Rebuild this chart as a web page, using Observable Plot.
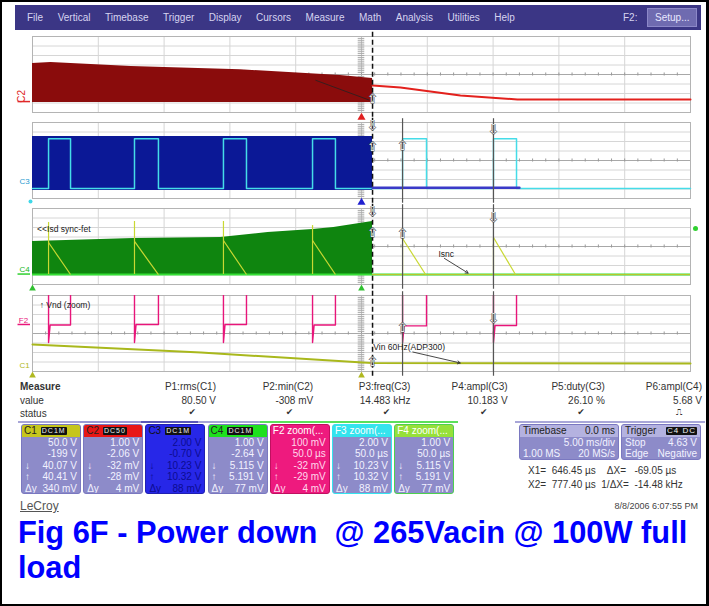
<!DOCTYPE html>
<html><head><meta charset="utf-8">
<script src="https://cdn.jsdelivr.net/npm/d3@7"></script>
<script src="https://cdn.jsdelivr.net/npm/@observablehq/plot@0.6"></script>
<style>
body{margin:0;background:#fff;font-family:"Liberation Sans",Arial,sans-serif;}
#stage{position:relative;width:709px;height:606px;overflow:hidden;background:#fff;}
#stage svg{position:absolute;left:0;}
.box{position:absolute;top:424px;width:60px;height:70px;border:1px solid #6f6db0;border-radius:3px;background:#8d8bc9;box-sizing:border-box;overflow:hidden;font-size:10px;color:#f2f2ff;}
.box .hd{height:12px;line-height:12px;padding-left:2px;font-size:10px;white-space:nowrap;overflow:hidden;}
.box .rw{height:11.4px;line-height:11.4px;text-align:right;padding-right:3px;position:relative;white-space:nowrap;}
.box .rw span{position:absolute;left:3px;top:0;}
.badge{display:inline-block;background:#111;color:#eee;font-size:7px;line-height:8px;padding:0 1px;border-radius:1px;margin-left:4px;vertical-align:1px;letter-spacing:1px;}
</style></head><body><div id="stage"></div><script>
// ---- axis / grid values (time in ms at 5 ms/div, amplitude in screen divisions) ----
const timeDomain = [0, 50];
const divDomain = [-4, 4];
const gridTimes = [0, 5, 10, 15, 20, 25, 30, 35, 40, 45, 50];
const gridDivs = [-4, -3, -2, -1, 0, 1, 2, 3, 4];
const minorTimes = d3.range(0, 50.01, 1);
const minorDivs = d3.range(-4, 4.01, 0.2);
const triggerTime = 25.84;
const cursorTimes = [28.12, 35.03];
const switchOn  = [1.22, 7.75, 14.51, 21.28, 28.12, 35.03];
const switchOff = [2.89, 9.57, 16.26, 23.02, 29.94, 36.78];

// ---- C2 (dark red envelope, then red decay) ----
const c2BandTime   = [0, 1.4, 7.5, 15.8, 23.4, 25.84];
const c2BandTop    = [1.16, 1.26, 0.84, 0.5, -0.1, -0.42];
const c2BandBottom = [-2.95, -2.95, -2.95, -2.95, -2.95, -2.95];
const c2TailTime   = [25.84, 27.96, 30.24, 32.52, 36.85, 50];
const c2TailLevel  = [-1.16, -1.37, -1.79, -2.2, -2.63, -2.63];

// ---- C3 (blue envelope) / F3 (cyan gate) ----
const c3BandTime   = [0, 25.84];
const c3BandTop    = [2.53, 2.53];
const c3BandBottom = [-3.16, -3.16];
const f3High = 2.3;
const f3Low = -2.95;
const c3TailTime  = [25.84, 37.0];
const c3TailLevel = [-2.86, -2.86];

// ---- C4 (green envelope) / F4 Isd spikes ----
const c4BandTime   = [0, 7.7, 14.3, 17.9, 21.3, 22.9, 25.84];
const c4BandTop    = [0.53, 0.84, 0.95, 1.47, 1.79, 2.0, 2.63];
const c4BandBottom = [-2.95, -2.95, -2.95, -2.95, -2.95, -2.95, -2.95];
const c4Baseline = -2.95;
const isdPeak = [2.53, 2.63, 2.63, 2.2, 0.84, 0.95];
const isdKnee = [0.42, 0.53, 0.63, 0.63, 0.84, 0.95];
const isdEnd  = [2.89, 9.57, 16.26, 23.02, 29.87, 36.7];

// ---- F2 (Vnd zoom, pink) / C1 (Vin, olive) ----
const f2PulseLevel = [0.9, 0.95, 0.95, 0.9, 0.8, 0.85];
const f2SpikeLow = -0.95;
const f2OffScreen = 5;
const c1Time  = [0, 12.8, 25.1, 25.84, 50];
const c1Level = [-1.16, -2.0, -3.05, -3.1, -3.16];

// ---- text ----
const menuItems = ["File","Vertical","Timebase","Trigger","Display","Cursors","Measure","Math","Analysis","Utilities","Help"];
const measureNames  = ["P1:rms(C1)","P2:min(C2)","P3:freq(C3)","P4:ampl(C3)","P5:duty(C3)","P6:ampl(C4)"];
const measureValues = ["80.50 V","-308 mV","14.483 kHz","10.183 V","26.10 %","5.68 V"];
const measureStatus = ["✔","✔","✔","✔","✔","⎍"];
const chanNames  = ["C1","C2","C3","C4","F2 zoom(...","F3 zoom(...","F4 zoom(..."];
const chanScale  = ["50.0 V","1.00 V","2.00 V","1.00 V","100 mV","2.00 V","1.00 V"];
const chanOffset = ["-199 V","-2.06 V","-0.70 V","-2.64 V","50.0 µs","50.0 µs","50.0 µs"];
const chanDown   = ["40.07 V","-32 mV","10.23 V","5.115 V","-32 mV","10.23 V","5.115 V"];
const chanUp     = ["40.41 V","-28 mV","10.32 V","5.191 V","-29 mV","10.32 V","5.191 V"];
const chanDelta  = ["340 mV","4 mV","88 mV","77 mV","4 mV","88 mV","77 mV"];
const chanBadge  = ["DC1M","DC50","DC1M","DC1M","","",""];
const cursorText = ["X1=  646.45 µs    ΔX=   -69.05 µs", "X2=  777.40 µs  1/ΔX=  -14.48 kHz"];
const captionText = "Fig 6F - Power down  @ 265Vacin @ 100W full load";

// ---------------------------------------------------------------
const stage = document.getElementById("stage");
function el(tag, css, text, parent) {
  const e = document.createElement(tag);
  e.style.cssText = css;
  if (text != null) e.textContent = text;
  (parent || stage).append(e);
  return e;
}
const zip = (ts, ys, y2s) => ts.map((t, i) => ({t, v: ys[i], v2: y2s ? y2s[i] : undefined}));

const gridMarks = () => [
  Plot.ruleX(gridTimes, {stroke: "#d6d6d6", strokeWidth: 1}),
  Plot.ruleY(gridDivs, {stroke: "#d6d6d6", strokeWidth: 1}),
  Plot.ruleY([0], {stroke: "#a8a8a8"}),
  Plot.ruleX([25], {stroke: "#c4c4c4"}),
  Plot.ruleX(minorTimes, {y1: -0.16, y2: 0.16, stroke: "#999"}),
  Plot.ruleY(minorDivs, {x1: 24.75, x2: 25.25, stroke: "#aaa"}),
  Plot.frame({stroke: "#b4b4b4"})
];
const arrowGlyph = (data) => Plot.text(data, {x: "t", y: "v", text: "g", fontSize: 13, fill: "white", stroke: "#444", strokeWidth: 0.9, fontFamily: "DejaVu Sans"});

function panel(top, marks) {
  const p = Plot.plot({
    width: 709, height: 88, marginLeft: 32, marginRight: 19, marginTop: 4, marginBottom: 8,
    x: {domain: timeDomain, axis: null},
    y: {domain: divDomain, axis: null},
    style: {background: "transparent", overflow: "visible", fontFamily: "Liberation Sans, Arial, sans-serif"},
    marks: [...gridMarks(), ...marks]
  });
  p.style.top = top + "px";
  p.style.overflow = "visible";
  stage.append(p);
  d3.select(p).selectAll("g[aria-label=underlined] text").style("text-decoration", "underline");
  return p;
}
const trigRule = Plot.ruleX([triggerTime], {y1: -4.5, y2: 4.5, stroke: "#111", strokeWidth: 1.5, strokeDasharray: "5,3"});
const cursorRule = Plot.ruleX(cursorTimes, {y1: -4.5, y2: 4.4, stroke: "#555", strokeWidth: 1.2});

// Panel 1 : C2
panel(32, [
  Plot.areaY(zip(c2BandTime, c2BandTop, c2BandBottom), {x: "t", y1: "v2", y2: "v", fill: "#8a0c0c"}),
  Plot.line(zip(c2TailTime, c2TailLevel), {x: "t", y: "v", stroke: "#e3211d", strokeWidth: 2}),
  Plot.link([{a: 21.5, b: -0.6, c: 25.6, d: -2.7}], {x1: "a", y1: "b", x2: "c", y2: "d", stroke: "#222", strokeWidth: 0.8}),
  trigRule,
  arrowGlyph([{t: triggerTime, v: -2.6, g: "⇧"}]),
  Plot.text([{t: 0, v: -2.3}], {x: "t", y: "v", text: () => "C2", rotate: -90, dx: -11, fill: "#e02828", fontSize: 10}),
  Plot.ruleY([-2.85], {x1: -1.1, x2: -0.15, stroke: "#e02828", strokeWidth: 1.5}),
  Plot.dot([{t: 25, v: -4}], {x: "t", y: "v", dy: 5, symbol: "triangle", r: 3, fill: "#e02020"})
]);

// Panel 2 : C3 / F3
const f3Series = [{t: 0, v: f3Low}];
switchOn.forEach((on, i) => f3Series.push({t: on, v: f3Low}, {t: on, v: f3High}, {t: switchOff[i], v: f3High}, {t: switchOff[i], v: f3Low}));
f3Series.push({t: 50, v: f3Low});
panel(118, [
  Plot.areaY(zip(c3BandTime, c3BandTop, c3BandBottom), {x: "t", y1: "v2", y2: "v", fill: "#0b1896"}),
  Plot.line(f3Series, {x: "t", y: "v", stroke: "#45dce8", strokeWidth: 1.5}),
  Plot.line(zip(c3TailTime, c3TailLevel), {x: "t", y: "v", stroke: "#3a3ac8", strokeWidth: 2.5}),
  trigRule, cursorRule,
  arrowGlyph([{t: triggerTime, v: 3.6, g: "⇩"}, {t: triggerTime, v: 1.4, g: "⇧"}, {t: cursorTimes[0], v: 1.5, g: "⇧"}, {t: cursorTimes[1], v: 3.2, g: "⇩"}]),
  Plot.text([{t: 0, v: -2.2}], {x: "t", y: "v", text: () => "C3", dx: -8, fill: "#2a9ad0", fontSize: 8}),
  Plot.dot([{t: 0, v: -4}], {x: "t", y: "v", dx: -2, dy: 3, r: 2, fill: "#40d8e8"}),
  Plot.dot([{t: 25, v: -4}], {x: "t", y: "v", dy: 4, symbol: "triangle", r: 3, fill: "#2020d0"})
]);

// Panel 3 : C4 / Isd
const isdPre = switchOn.slice(0, 4).map((on, i) => ({t: on, top: isdPeak[i]}));
const isdDecay = switchOn.map((on, i) => ({t1: on, v1: isdKnee[i], t2: isdEnd[i], v2: c4Baseline}));
panel(204, [
  Plot.areaY(zip(c4BandTime, c4BandTop, c4BandBottom), {x: "t", y1: "v2", y2: "v", fill: "#0f850f"}),
  Plot.ruleY([c4Baseline], {stroke: "#35e035", strokeWidth: 2}),
  Plot.ruleY([c4Baseline], {x1: triggerTime, x2: 50, stroke: "#b8c82a", strokeWidth: 1}),
  Plot.ruleX(isdPre, {x: "t", y1: c4Baseline, y2: "top", stroke: "#c9d833", strokeWidth: 1.2}),
  Plot.ruleX(switchOn.slice(4), {y1: c4Baseline, y2: (d, i) => isdPeak[i + 4], stroke: "#c9d833", strokeWidth: 1.2}),
  Plot.link(isdDecay, {x1: "t1", y1: "v1", x2: "t2", y2: "v2", stroke: "#c9d833", strokeWidth: 1.2}),
  trigRule, cursorRule,
  arrowGlyph([{t: triggerTime, v: 3.6, g: "⇩"}, {t: triggerTime, v: 1.4, g: "⇧"}, {t: cursorTimes[0], v: 1.3, g: "⇧"}, {t: cursorTimes[1], v: 3.0, g: "⇩"}]),
  Plot.text([{t: 0.35, v: 1.85}], {x: "t", y: "v", text: () => "<<Isd sync-fet", textAnchor: "start", fill: "#222", fontSize: 8.5, ariaLabel: "underlined"}),
  Plot.text([{t: 30.85, v: -0.8}], {x: "t", y: "v", text: () => "Isnc", textAnchor: "start", fill: "#222", fontSize: 8.5, ariaLabel: "underlined"}),
  Plot.arrow([{a: 31.3, b: -1.25, c: 33.1, d: -2.8}], {x1: "a", y1: "b", x2: "c", y2: "d", stroke: "#333", strokeWidth: 0.9, headLength: 5}),
  Plot.text([{t: 0, v: -2.4}], {x: "t", y: "v", text: () => "C4", dx: -8, fill: "#18b818", fontSize: 8}),
  Plot.ruleY([-2.9], {x1: -1.1, x2: -0.15, stroke: "#30d030", strokeWidth: 1.5}),
  Plot.dot([{t: 50, v: 1.9}], {x: "t", y: "v", dx: 5, r: 2.5, fill: "#30d030"}),
  Plot.dot([{t: 0, v: -4}, {t: 25, v: -4}], {x: "t", y: "v", dy: 4, symbol: "triangle", r: 2.5, fill: "#30c030"})
]);

// Panel 4 : F2 / C1
const f2Series = [{t: 0, v: f2OffScreen}];
switchOn.forEach((on, i) => f2Series.push(
  {t: on, v: f2OffScreen}, {t: on, v: f2SpikeLow}, {t: on + 0.12, v: f2PulseLevel[i]},
  {t: switchOff[i], v: f2PulseLevel[i]}, {t: switchOff[i], v: f2OffScreen}));
f2Series.push({t: 50, v: f2OffScreen});
panel(291, [
  Plot.line(zip(c1Time, c1Level), {x: "t", y: "v", stroke: "#a9b81c", strokeWidth: 2}),
  Plot.line(f2Series, {x: "t", y: "v", stroke: "#e8157a", strokeWidth: 1.4, clip: true}),
  trigRule, cursorRule,
  arrowGlyph([{t: triggerTime, v: -3.0, g: "⇧"}, {t: cursorTimes[0], v: 0.6, g: "⇧"}, {t: cursorTimes[1], v: 1.5, g: "⇩"}]),
  Plot.text([{t: 0.55, v: 3.0}], {x: "t", y: "v", text: () => "↑ Vnd (zoom)", textAnchor: "start", fill: "#222", fontSize: 8.5, ariaLabel: "underlined"}),
  Plot.text([{t: 25.9, v: -1.45}], {x: "t", y: "v", text: () => "Vin 60Hz(ADP300)", textAnchor: "start", fill: "#222", fontSize: 8.5, ariaLabel: "underlined"}),
  Plot.arrow([{a: 28.9, b: -1.95, c: 32.5, d: -3.1}], {x1: "a", y1: "b", x2: "c", y2: "d", stroke: "#333", strokeWidth: 0.9, headLength: 5}),
  Plot.text([{t: 0, v: 1.4}], {x: "t", y: "v", text: () => "F2", dx: -9, fill: "#e8157a", fontSize: 8}),
  Plot.ruleY([0.95], {x1: -1.1, x2: -0.15, stroke: "#e8157a", strokeWidth: 1.5}),
  Plot.text([{t: 0, v: -3.4}], {x: "t", y: "v", text: () => "C1", dx: -8, fill: "#b0b820", fontSize: 8}),
  Plot.dot([{t: 0, v: -4}, {t: 25, v: -4}], {x: "t", y: "v", dy: 4, symbol: "triangle", r: 2.5, fill: "#b0b820"})
]);

// ---- menu bar ----
const bar = el("div", "position:absolute;left:15px;top:5px;width:686px;height:25px;background:#3b3685;");
const mrow = el("div", "position:absolute;left:12px;top:7px;display:flex;gap:14.5px;font-size:10px;color:#d6d4f0;", null, bar);
menuItems.forEach(m => el("span", "", m, mrow));
el("span", "position:absolute;left:608px;top:7px;font-size:10px;color:#d6d4f0;", "F2:", bar);
el("div", "position:absolute;left:632px;top:3px;width:50px;height:19px;background:#6f6bb0;border:1px solid #8c88c8;box-sizing:border-box;font-size:10px;color:#e8e8ff;line-height:17px;padding-left:7px;", "Setup...", bar);

// ---- measure table ----
const mcss = "position:absolute;font-size:10px;color:#333;white-space:nowrap;";
el("div", mcss + "left:20px;top:381px;font-weight:bold;", "Measure");
el("div", mcss + "left:20px;top:395px;", "value");
el("div", mcss + "left:20px;top:408px;", "status");
measureNames.forEach((n, i) => {
  const right = 709 - (216 + i * 97.2);
  el("div", mcss + `right:${right}px;top:381px;`, n);
  el("div", mcss + `right:${right}px;top:395px;`, measureValues[i]);
  el("div", mcss + `right:${right + 20}px;top:407px;font-family:'DejaVu Sans';font-size:9px;`, measureStatus[i]);
});
el("div", "position:absolute;left:18px;top:421px;width:440px;height:2px;background:linear-gradient(90deg,#a8a6d8 0 14%,#9a98d6 14% 28%,#5a58b8 28% 41%,#a8a6d8 41% 55%,#5be05b 55% 69%,#5be05b 69% 83%,#5be05b 83% 100%);");
el("div", "position:absolute;left:515px;top:421px;width:190px;height:2px;background:#a8a6d8;");

// ---- channel boxes ----
const hdBg   = ["#c6c61c", "#e81616", "transparent", "#1ee01e", "transparent", "#34e4ee", "#96e03a"];
const hdFg   = ["#222", "#222", "#111", "#222", "#fff", "#fff", "#fff"];
const boxBg  = ["#8d8bc9", "#8d8bc9", "#2727e8", "#8d8bc9", "#ee1a7e", "#8d8bc9", "#8d8bc9"];
const boxFg  = ["#f2f2ff", "#f2f2ff", "#0c0c90", "#f2f2ff", "#ffd8ec", "#f2f2ff", "#f2f2ff"];
const boxBd  = ["#7a78c0", "#7a78c0", "#2020b0", "#7a78c0", "#c01060", "#34e4ee", "#4ed04e"];
chanNames.forEach((name, i) => {
  const b = el("div", `left:${21 + i * 62.2}px;background:${boxBg[i]};border-color:${boxBd[i]};color:${boxFg[i]};`);
  b.className = "box";
  const hd = el("div", `background:${hdBg[i]};color:${hdFg[i]};`, name, b);
  hd.className = "hd";
  if (chanBadge[i]) { const bg = el("span", "", chanBadge[i], hd); bg.className = "badge"; }
  [["", chanScale[i]], ["", chanOffset[i]], ["↓", chanDown[i]], ["↑", chanUp[i]], ["Δy", chanDelta[i]]].forEach(([lab, val]) => {
    const r = el("div", "", val, b); r.className = "rw";
    if (lab) el("span", "", lab, r);
  });
});

// ---- timebase / trigger ----
function infoBox(left, width, title, titleRight, rows) {
  const b = el("div", `position:absolute;left:${left}px;top:424px;width:${width}px;height:36px;border:1px solid #7a78c0;border-radius:3px;background:#8d8bc9;box-sizing:border-box;font-size:10px;color:#f2f2ff;overflow:hidden;`);
  const hd = el("div", "height:12px;line-height:12px;background:#b4b2e0;color:#222;padding:0 3px;position:relative;", title, b);
  el("span", "position:absolute;right:3px;top:0;", null, hd).append(titleRight);
  rows.forEach(([l, r]) => {
    const rw = el("div", "height:11px;line-height:11px;padding:0 3px;position:relative;text-align:right;", r, b);
    el("span", "position:absolute;left:3px;top:0;", l, rw);
  });
}
infoBox(519, 100, "Timebase", "0.0 ms", [["", "5.00 ms/div"], ["1.00 MS", "20 MS/s"]]);
const trigBadge = document.createElement("span"); trigBadge.className = "badge"; trigBadge.textContent = "C4 DC"; trigBadge.style.fontSize = "8px";
infoBox(621, 80, "Trigger", trigBadge, [["Stop", "4.63 V"], ["Edge", "Negative"]]);
el("div", "position:absolute;left:528px;top:465px;font-size:10px;color:#333;white-space:pre;", cursorText[0]);
el("div", "position:absolute;left:528px;top:479px;font-size:10px;color:#333;white-space:pre;", cursorText[1]);

// ---- footer ----
el("div", "position:absolute;left:20px;top:499px;font-size:12px;color:#555;text-decoration:underline;", "LeCroy");
el("div", "position:absolute;right:11px;top:501px;font-size:9px;color:#444;", "8/8/2006 6:07:55 PM");
el("div", "position:absolute;left:18px;top:515px;width:690px;font-size:30.8px;font-weight:bold;line-height:35px;color:#0000ff;white-space:pre-wrap;", captionText);

// frame
el("div", "position:absolute;left:0;top:0;width:709px;height:606px;border:2px solid #000;border-right-width:3px;box-sizing:border-box;pointer-events:none;");
</script></body></html>
